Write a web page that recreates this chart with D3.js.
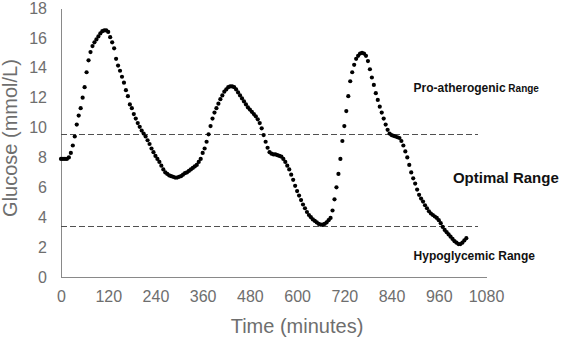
<!DOCTYPE html>
<meta charset="utf-8">
<style>

body {
  margin: 0;
  background: #fff;
}

.chart text {
  font-family: "Liberation Sans", Arial, sans-serif;
}

.axis path {
  fill: none;
  stroke: #898989;
  shape-rendering: crispEdges;
}

.axis text {
  fill: #6e6e6e;
  font-size: 16px;
}

.axis-title {
  fill: #6e6e6e;
  font-size: 20px;
}

.dot {
  fill: #000;
}

.limit {
  stroke: #505050;
  stroke-width: 1;
  stroke-dasharray: 6,3;
  shape-rendering: crispEdges;
}

.note {
  fill: #111;
  font-weight: bold;
}

</style>
<svg class="chart"></svg>
<script src="https://d3js.org/d3.v7.min.js"></script>
<script>

// CGM readings, one every 5 minutes starting at 0
var startMinute = 0,
    stepMinutes = 5;

var glucose = [
  7.9, 7.9, 7.9, 7.9, 8.0, 8.3, 8.8, 9.4, 10.2, 10.8, 11.3, 12.0,
  12.7, 13.7, 14.5, 15.05, 15.45, 15.7, 15.9, 16.1, 16.3, 16.45, 16.5, 16.5,
  16.4, 16.05, 15.7, 15.3, 14.6, 14.15, 13.8, 13.4, 13.0, 12.5, 12.1, 11.55,
  11.3, 10.9, 10.6, 10.3, 10.05, 9.8, 9.6, 9.4, 9.15, 8.9, 8.6, 8.35,
  8.1, 7.9, 7.7, 7.45, 7.2, 7.0, 6.9, 6.8, 6.75, 6.7, 6.65, 6.65,
  6.7, 6.75, 6.85, 6.95, 7.0, 7.1, 7.2, 7.3, 7.4, 7.5, 7.7, 7.9,
  8.3, 8.6, 9.05, 9.55, 10.1, 10.6, 11.0, 11.3, 11.6, 11.9, 12.15, 12.4,
  12.55, 12.7, 12.75, 12.75, 12.7, 12.55, 12.35, 12.15, 11.95, 11.75, 11.55, 11.35,
  11.2, 11.05, 10.9, 10.75, 10.55, 10.3, 9.95, 9.5, 9.05, 8.65, 8.35, 8.25,
  8.2, 8.2, 8.15, 8.1, 8.05, 7.9, 7.7, 7.45, 7.2, 6.85, 6.5, 6.1,
  5.75, 5.45, 5.15, 4.85, 4.6, 4.35, 4.15, 4.0, 3.85, 3.75, 3.65, 3.55,
  3.5, 3.5, 3.55, 3.65, 3.8, 3.95, 4.45, 5.2, 6.0, 6.9, 7.9, 9.1,
  10.1, 11.1, 12.1, 13.1, 13.7, 14.2, 14.6, 14.8, 14.95, 15.0, 14.95, 14.8,
  14.45, 13.9, 13.35, 12.85, 12.3, 11.85, 11.4, 11.0, 10.6, 10.2, 9.85, 9.6,
  9.5, 9.45, 9.4, 9.35, 9.3, 9.1, 8.8, 8.4, 8.0, 7.5, 7.0, 6.6,
  6.25, 5.85, 5.5, 5.25, 5.05, 4.8, 4.6, 4.4, 4.25, 4.15, 4.05, 3.95,
  3.8, 3.6, 3.35, 3.15, 3.0, 2.85, 2.7, 2.55, 2.4, 2.3, 2.2, 2.2,
  2.3, 2.45, 2.6
];

var xTicks = [0, 120, 240, 360, 480, 600, 720, 840, 960, 1080];
var yTicks = [0, 2, 4, 6, 8, 10, 12, 14, 16, 18];

// range thresholds (mmol/L) and where the dashed lines stop (minutes)
var limits = [9.6, 3.4];
var limitEnd = 1060;

var notes = [
  {text: "Pro-atherogenic", small: "Range", minute: 896, value: 12.35, size: 12},
  {text: "Optimal Range", minute: 996, value: 6.3, size: 15},
  {text: "Hypoglycemic Range", minute: 896, value: 1.15, size: 12}
];

var data = glucose.map(function (g, i) {
  return {minute: startMinute + i * stepMinutes, value: g};
});

var margin = {top: 8, right: 75, bottom: 62, left: 61},
    width = 561 - margin.left - margin.right,
    height = 339 - margin.top - margin.bottom;

var x = d3.scaleLinear()
    .domain([0, 1080])
    .range([0, width]);

var y = d3.scaleLinear()
    .domain([0, 18])
    .range([height, 0]);

var svg = d3.select(".chart")
    .attr("width", 561)
    .attr("height", 339);

var chart = svg.append("g")
    .attr("transform", "translate(" + margin.left + "," + margin.top + ")");

var xAxis = d3.axisBottom(x)
    .tickValues(xTicks)
    .tickFormat(d3.format("d"))
    .tickSize(0)
    .tickPadding(10);

var yAxis = d3.axisLeft(y)
    .tickValues(yTicks)
    .tickSize(0)
    .tickPadding(14);

chart.append("g")
    .attr("class", "x axis")
    .attr("transform", "translate(0," + height + ")")
    .call(xAxis)
    .call(function (g) { g.selectAll("text").attr("dy", "0.95em"); });

chart.append("g")
    .attr("class", "y axis")
    .call(yAxis);

chart.selectAll(".limit")
    .data(limits)
  .enter().append("line")
    .attr("class", "limit")
    .attr("x1", x(0))
    .attr("x2", x(limitEnd))
    .attr("y1", function (d) { return Math.round(y(d)) + 0.5; })
    .attr("y2", function (d) { return Math.round(y(d)) + 0.5; });

chart.selectAll(".dot")
    .data(data)
  .enter().append("circle")
    .attr("class", "dot")
    .attr("cx", function (d) { return x(d.minute); })
    .attr("cy", function (d) { return y(d.value); })
    .attr("r", 2.1);

var note = chart.selectAll(".note")
    .data(notes)
  .enter().append("text")
    .attr("class", "note")
    .attr("x", function (d) { return x(d.minute); })
    .attr("y", function (d) { return y(d.value); })
    .style("font-size", function (d) { return d.size + "px"; })
    .text(function (d) { return d.text; });

note.filter(function (d) { return d.small; })
  .append("tspan")
    .style("font-size", "10px")
    .text(function (d) { return " " + d.small; });

svg.append("text")
    .attr("class", "axis-title")
    .attr("x", 297)
    .attr("y", 333)
    .attr("text-anchor", "middle")
    .text("Time (minutes)");

svg.append("text")
    .attr("class", "axis-title")
    .attr("transform", "translate(17,138) rotate(-90)")
    .attr("text-anchor", "middle")
    .text("Glucose (mmol/L)");

</script>
